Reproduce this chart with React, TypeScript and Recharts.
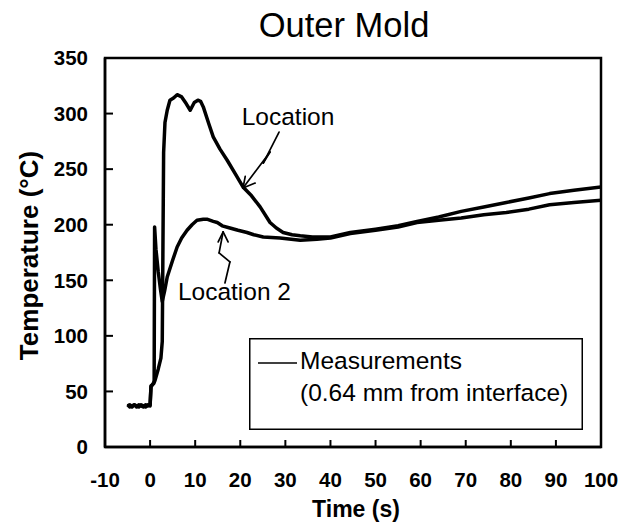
import React from 'react';
import {
  LineChart,
  Line,
  XAxis,
  YAxis,
  ReferenceArea,
  ReferenceLine,
  ReferenceDot,
  Legend,
  Label,
} from 'recharts';

// Location (upper early peak)
const loc1Time = [
  -5, -4.5, -4, -3.5, -3, -2.5, -2, -1.5, -1, -0.5, 0, 0.2, 0.5, 0.8, 1.1, 1.8, 2.4, 2.7, 2.85, 3.0,
  3.3, 3.8, 4.4, 5.2, 6.0, 7.0, 8.0, 8.9, 9.8, 10.6, 11.2, 11.8, 13.0, 14.0, 15.5, 17.1, 19.0, 20.6,
  22.5, 24.4, 26.6, 28.0, 29.5, 31.5, 33.3, 36, 40, 44.4, 50, 55, 59.2, 64, 69, 74, 79, 84, 88.6, 94, 100,
];
const loc1Temp = [
  37, 38, 36, 38, 37, 36, 38, 37, 36, 38, 37, 55, 56, 57, 60, 70, 80, 95, 180, 265,
  292, 303, 312, 314, 317, 315, 309, 303, 310, 312, 311, 306, 291, 279, 268, 258, 245, 234,
  226, 216, 202, 197, 193, 191, 190, 189, 189, 193, 196, 199, 203, 207, 212, 216, 220, 224, 228, 231, 234,
];

// Location 2 (spike, then slower rise)
const loc2Time = [
  -5, -4.5, -4, -3.5, -3, -2.5, -2, -1.5, -1, -0.5, 0, 0.2, 0.5, 0.8, 0.9, 1.0, 1.3, 1.8, 2.3, 2.7,
  3.2, 3.8, 5.0, 6.0, 7.0, 8.2, 9.3, 10.4, 11.8, 12.6, 14.0, 14.9, 16.0, 17.7, 19.5, 21.5, 23.0, 25.1,
  28.8, 33.3, 37, 40, 44.4, 50, 55, 59.2, 64, 69, 74, 79, 84, 88.6, 94, 100,
];
const loc2Temp = [
  38, 36, 37, 38, 36, 38, 37, 36, 38, 37, 38, 54, 56, 58, 60, 198, 178, 158, 142, 131,
  140, 153, 168, 180, 188, 195, 200, 204, 205, 205, 203, 202, 199, 197, 195, 193, 191, 189,
  188, 186, 187, 188, 192, 195, 198, 202, 204, 206, 209, 211, 214, 218, 220, 222,
];

const xTicks = [-10, 0, 10, 20, 30, 40, 50, 60, 70, 80, 90, 100];
const yTicks = [0, 50, 100, 150, 200, 250, 300, 350];

// annotation arrows, in data units (time, temperature)
const locArrow = [[28.6, 283.4], [25.1, 255.5], [26.6, 265.4], [20.6, 233.0]];
const locArrowHead = [[21.1, 243.5], [20.6, 233.0], [23.3, 237.5]];
const loc2Arrow = [[16.6, 147.6], [17.7, 166.5], [15.3, 174.6], [16.2, 193.5]];
const loc2ArrowHead = [[15.1, 184.5], [16.2, 193.5], [17.3, 184.5]];

const location1 = loc1Time.map((t, i) => ({ t, temp: loc1Temp[i] }));
const location2 = loc2Time.map((t, i) => ({ t, temp: loc2Temp[i] }));

const FONT = '"Liberation Sans", Arial, Helvetica, sans-serif';

function segments(points: number[][], keyBase: string, width: number) {
  const out = [];
  for (let i = 0; i < points.length - 1; i++) {
    out.push(
      <ReferenceLine
        key={keyBase + i}
        segment={[
          { x: points[i][0], y: points[i][1] },
          { x: points[i + 1][0], y: points[i + 1][1] },
        ]}
        stroke="#000"
        strokeWidth={width}
        strokeLinecap="round"
        ifOverflow="visible"
      />
    );
  }
  return out;
}

function LegendBox() {
  return (
    <svg width={334} height={92} style={{ display: 'block' }}>
      <rect x={0.75} y={0.75} width={332.5} height={90.5} fill="#fff" stroke="#000" strokeWidth={1.5} />
      <line x1={9} x2={48} y1={25} y2={25} stroke="#000" strokeWidth={1.5} />
      <text x={51} y={31} fontSize={24.5} fontFamily={FONT} fill="#000">Measurements</text>
      <text x={51} y={63} fontSize={24.5} fontFamily={FONT} fill="#000">(0.64 mm from interface)</text>
    </svg>
  );
}

export default function App() {
  return (
    <div style={{ position: 'absolute', left: 0, top: 0, width: 628, height: 523, background: '#fff' }}>
      <div
        style={{
          position: 'absolute',
          left: 194,
          top: 8,
          width: 300,
          textAlign: 'center',
          fontFamily: FONT,
          fontSize: 34.5,
          lineHeight: '34px',
          color: '#000',
          zIndex: 2,
        }}
      >
        Outer Mold
      </div>
      <LineChart
        width={628}
        height={523}
        margin={{ top: 58, right: 27, bottom: 0, left: 0 }}
        style={{ fontFamily: FONT }}
      >
        <XAxis
          type="number"
          dataKey="t"
          domain={[-10, 100]}
          ticks={xTicks}
          interval={0}
          allowDataOverflow
          height={76}
          tickSize={-7}
          tickMargin={32}
          axisLine={{ stroke: '#000', strokeWidth: 2.5 }}
          tickLine={{ stroke: '#000', strokeWidth: 2 }}
          tick={{ fontSize: 20.5, fontWeight: 'bold', fill: '#000' }}
        >
          <Label value="Time (s)" position="insideBottom" offset={6} dx={3} fontSize={23} fontWeight="bold" fill="#000" />
        </XAxis>
        <YAxis
          type="number"
          domain={[0, 350]}
          ticks={yTicks}
          interval={0}
          allowDataOverflow
          width={105}
          tickSize={-8}
          tickMargin={25}
          axisLine={{ stroke: '#000', strokeWidth: 2.5 }}
          tickLine={{ stroke: '#000', strokeWidth: 2 }}
          tick={{ fontSize: 20.5, fontWeight: 'bold', fill: '#000' }}
        >
          <Label value="Temperature (°C)" angle={-90} position="center" dx={-23.5} dy={3} fontSize={26} fontWeight="bold" fill="#000" />
        </YAxis>

        <ReferenceArea x1={-10} x2={100} y1={0} y2={350} fill="none" stroke="#000" strokeWidth={2.5} ifOverflow="visible" />

        <Line
          data={location1}
          dataKey="temp"
          name="Location"
          type="linear"
          stroke="#000"
          strokeWidth={3.5}
          strokeLinejoin="round"
          dot={false}
          isAnimationActive={false}
        />
        <Line
          data={location2}
          dataKey="temp"
          name="Location 2"
          type="linear"
          stroke="#000"
          strokeWidth={3.5}
          strokeLinejoin="round"
          dot={false}
          isAnimationActive={false}
        />

        {segments(locArrow, 'la', 1.7)}
        {segments(locArrowHead, 'lh', 1.7)}
        {segments(loc2Arrow, 'l2a', 1.7)}
        {segments(loc2ArrowHead, 'l2h', 1.7)}

        <ReferenceDot x={30.6} y={297.4} r={0} stroke="none" ifOverflow="visible">
          <Label value="Location" position="center" fontSize={24.5} fill="#000" />
        </ReferenceDot>
        <ReferenceDot x={18.7} y={139.9} r={0} stroke="none" ifOverflow="visible">
          <Label value="Location 2" position="center" fontSize={24.5} fill="#000" />
        </ReferenceDot>

        <Legend
          layout="horizontal"
          verticalAlign="middle"
          align="center"
          content={() => <LegendBox />}
          wrapperStyle={{ left: 249, top: 338, width: 334, height: 92 }}
        />
      </LineChart>
    </div>
  );
}
